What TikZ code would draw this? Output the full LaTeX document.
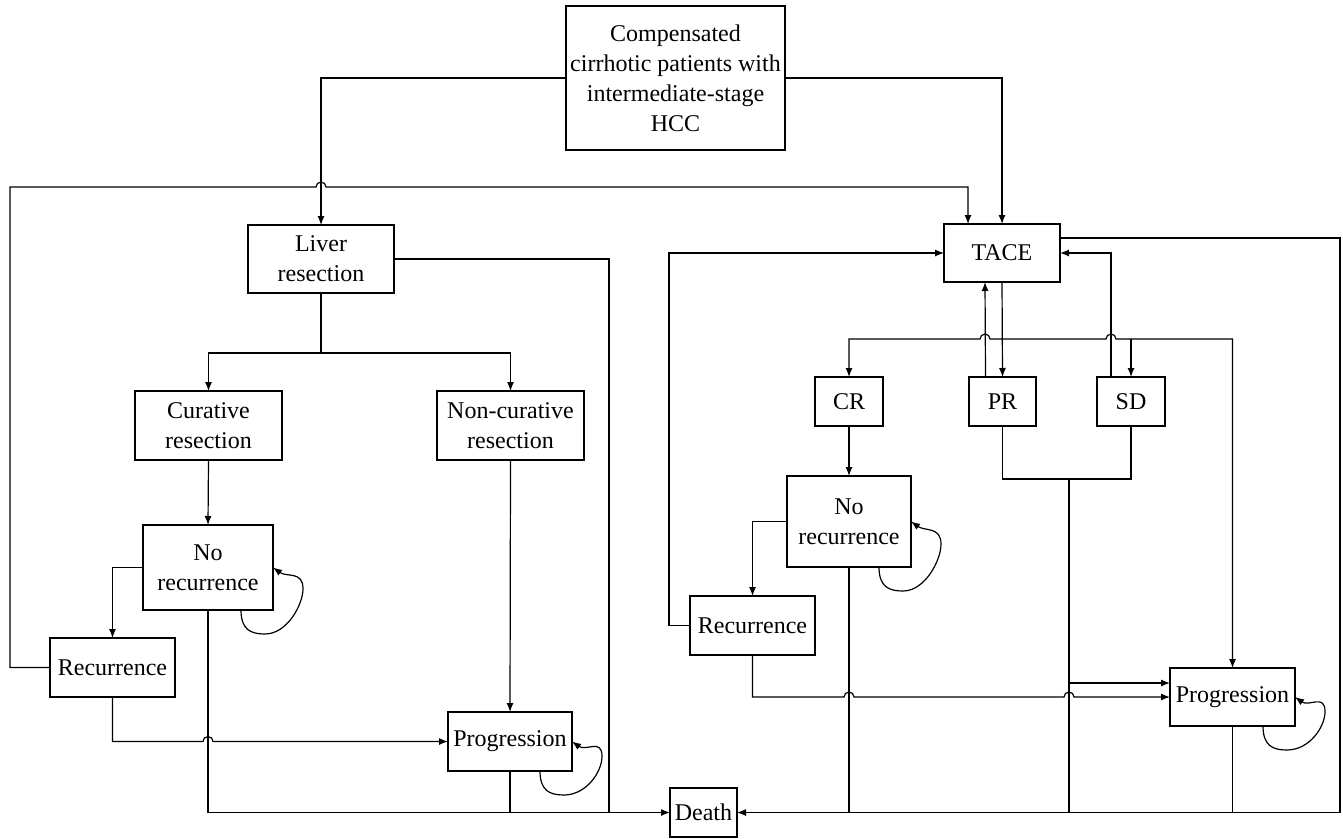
\documentclass[tikz,border=0pt]{standalone}
\usepackage{fontspec}
\setmainfont{Liberation Serif}
\usetikzlibrary{arrows.meta,positioning,calc}

\newcommand{\selfloop}[1]{%
\draw [arr] ($(#1.south east)+(-32,0)$) .. controls +(0,20) and +(-14,0) ..
($(#1.south east)+(-8,24)$) .. controls +(22,0) and +(0,16) ..
($(#1.east)!0.5!(#1.south east)+(30,0)$) .. controls +(0,-18) and +(14,10) .. (#1.east);}

\begin{document}
\begin{tikzpicture}[x=1pt,y=-1pt,every node/.style={outer sep=0pt,font=\fontsize{24}{30}\selectfont}]
\tikzstyle{box}=[draw,line width=1.2pt,align=center,inner sep=2pt]
\tikzstyle{arr}=[line width=1.2pt,-{Latex[length=9pt,width=7pt]}]
\tikzstyle{wire}=[line width=1.2pt]
\useasboundingbox (0,0) rectangle (1343,838);
% states
\node (cph) [box,minimum width=219pt,minimum height=144pt] at (675.5,78) {Compensated\\cirrhotic patients with\\intermediate-stage\\HCC};
\node (liver) [box,minimum width=146pt,minimum height=68pt] at (321,259) {Liver\\resection};
\node (cur) [box,minimum width=147pt,minimum height=69pt] at (208.5,425.5) {Curative\\resection};
\node (noncur) [box,minimum width=147pt,minimum height=69pt] at (510.5,425.5) {Non-curative\\resection};
\node (nrL) [box,minimum width=130pt,minimum height=85pt] at (208,567.5) {No\\recurrence};
\node (recL) [box,minimum width=125pt,minimum height=59pt] at (112.5,667.5) {Recurrence};
\node (progL) [box,minimum width=124pt,minimum height=59pt] at (510,741.5) {Progression};
\node (death) [box,minimum width=67pt,minimum height=49pt] at (703.5,812.5) {Death};
\node (tace) [box,minimum width=116pt,minimum height=58pt] at (1002,253) {TACE};
\node (cr) [box,minimum width=68pt,minimum height=49pt] at (849,401.5) {CR};
\node (pr) [box,minimum width=67pt,minimum height=49pt] at (1002.5,401.5) {PR};
\node (sd) [box,minimum width=68pt,minimum height=49pt] at (1131,401.5) {SD};
\node (nrR) [box,minimum width=124pt,minimum height=91pt] at (849,521.5) {No\\recurrence};
\node (recR) [box,minimum width=125pt,minimum height=59pt] at (752.5,625.5) {Recurrence};
\node (progR) [box,minimum width=125pt,minimum height=58pt] at (1232.5,697) {Progression};
% bends
\coordinate (lt) at (10,187);
\coordinate (ld) at (609,259);
\coordinate (lb) at (321,353);
\coordinate (rt) at (1340,238);
\coordinate (tb) at (1002,339);
\coordinate (pj) at (1069,479);
% left arm
\draw [arr] (cph.west) -| (liver.north);
\draw [arr] (recL.west) -| (lt) -- ($(liver.north |- lt)+(-5,0)$) arc[start angle=180,end angle=0,radius=5pt]
 -- ($(tace.north west |- lt)+(24,0)$) -- ($(tace.north west)+(24,0)$);
\draw [wire] (liver.east) -- (ld) -- (ld |- death.west);
\draw [wire] (liver.south) -- (lb);
\draw [arr] (lb) -| (cur.north);
\draw [arr] (lb) -| (noncur.north);
\draw [arr] (cur.south) -- (nrL.north);
\draw [arr] (noncur.south) -- (progL.north);
\draw [arr] (nrL.west) -| (recL.north);
\draw [arr] (nrL.south) |- (death.west);
\draw [arr] (recL.south) |- ($(nrL.south |- progL.west)+(-5,0)$) arc[start angle=180,end angle=0,radius=5pt] -- (progL.west);
\draw [wire] (progL.south) -- (progL.south |- death.west);
\selfloop{nrL}
\selfloop{progL}
% right arm
\draw [arr] (cph.east) -| (tace.north);
\draw [arr] ($(tace.north east)+(0,14)$) -- (rt) |- (death.east);
\draw [arr] (recR.west) -- ++(-21,0) |- (tace.west);
\draw [arr] (tace.south) -- (pr.north);
\draw [arr] (tb) -- ($(tb)+(-12,0)$) arc[start angle=0,end angle=180,radius=5pt] -| (cr.north);
\draw [arr] (tb) -- ($(tb)+(104,0)$) arc[start angle=180,end angle=0,radius=5pt] -| (progR.north);
\draw [arr] (sd.north |- tb) -- (sd.north);
\draw [arr] ($(pr.north)+(-17,0)$) -- ($(tace.south)+(-17,0)$);
\draw [arr] ($(sd.north)+(-20,0)$) |- (tace.east);
\draw [arr] (cr.south) -- (nrR.north);
\draw [arr] (nrR.west) -| (recR.north);
\draw [wire] (nrR.south) -- (nrR.south |- death.east);
\draw [wire] (pr.south) |- (pj) -| (sd.south);
\draw [wire] (pj) -- (pj |- death.east);
\draw [arr] ($(pj |- progR.west)+(0,-14)$) -- ($(progR.west)+(0,-14)$);
\draw [arr] (recR.south) |- ($(nrR.south |- progR.west)+(-5,0)$) arc[start angle=180,end angle=0,radius=5pt]
 -- ($(pj |- progR.west)+(-5,0)$) arc[start angle=180,end angle=0,radius=5pt] -- (progR.west);
\draw [wire] (progR.south) -- (progR.south |- death.east);
\selfloop{nrR}
\selfloop{progR}
\end{tikzpicture}
\end{document}
